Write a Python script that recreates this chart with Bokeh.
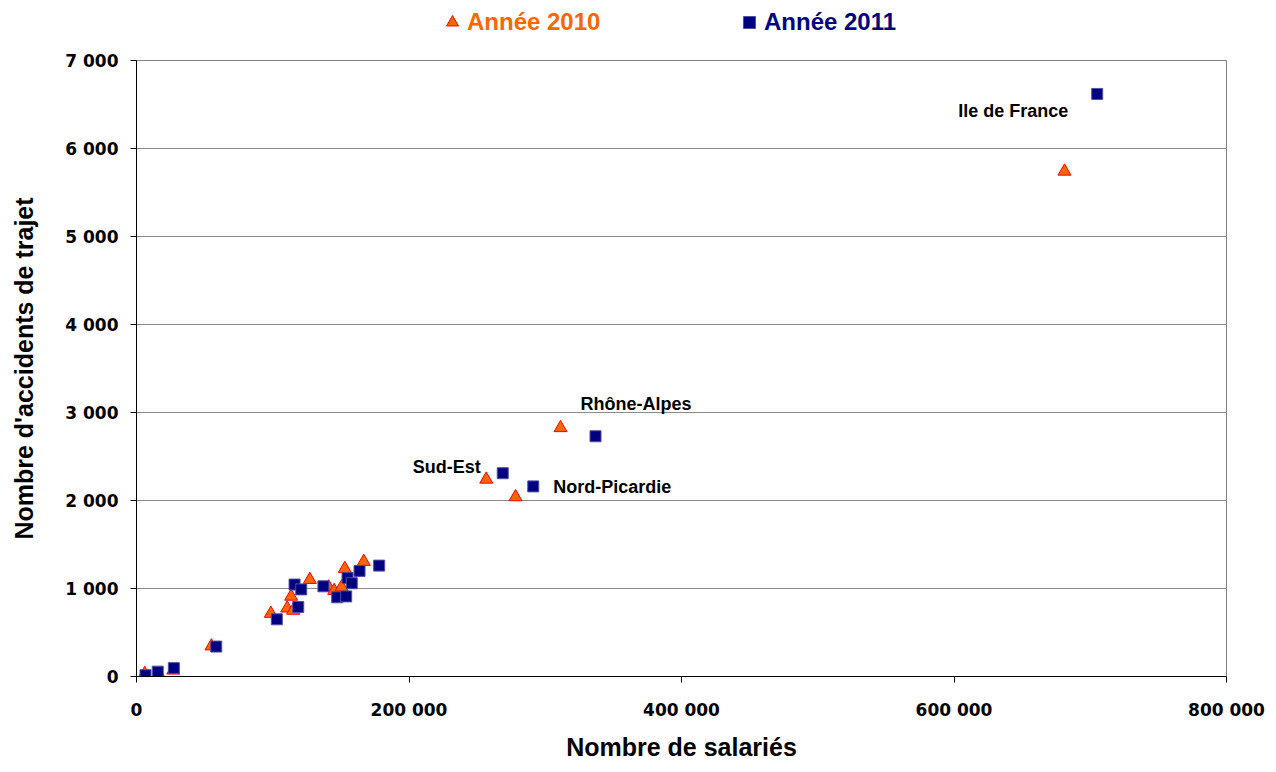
from bokeh.plotting import figure
from bokeh.layouts import column
from bokeh.models import Range1d, FixedTicker, Legend, LegendItem, ColumnDataSource
from bokeh.core.properties import value
from bokeh.embed import file_html
from bokeh.resources import INLINE

# ---- data ----
salaries_2010 = [6000, 17000, 27000, 55000, 98600, 110600, 115000, 113500, 127200,
                 141100, 145100, 150500, 152900, 166800, 256700, 278200, 311200, 681100]
accidents_2010 = [30, 10, 70, 345, 715, 775, 750, 910, 1100,
                  1015, 975, 1015, 1225, 1305, 2240, 2040, 2825, 5740]

salaries_2011 = [6600, 15600, 27400, 58500, 103000, 118700, 116000, 120900, 137200,
                 147300, 153900, 154900, 158000, 163700, 178100, 268800, 291200, 336900, 705100]
accidents_2011 = [15, 55, 95, 340, 650, 790, 1045, 990, 1025,
                  900, 910, 1120, 1060, 1200, 1260, 2310, 2160, 2730, 6620]

label_names = ["Ile de France", "Rhône-Alpes", "Sud-Est", "Nord-Picardie"]
label_salaries = [705100, 336900, 268800, 291200]
label_accidents = [6620, 2730, 2310, 2160]

x_ticks = [0, 200000, 400000, 600000, 800000]
x_tick_labels = ["0", "200 000", "400 000", "600 000", "800 000"]
y_ticks = [0, 1000, 2000, 3000, 4000, 5000, 6000, 7000]
y_tick_labels = ["0", "1 000", "2 000", "3 000", "4 000", "5 000", "6 000", "7 000"]

series_names = ["Année 2010", "Année 2011"]
x_title = "Nombre de salariés"
y_title = "Nombre d'accidents de trajet"

# ---- styles ----
FONT = "Liberation Sans"
TICK_FONT = "DejaVu Sans"
ORANGE = "#FF6600"
NAVY = "#000080"
TRI_STYLE = dict(marker="triangle", size=13, fill_color=ORANGE, line_color="#FF0000", line_width=1)
SQ_STYLE = dict(marker="square", size=11, fill_color=NAVY, line_color="#5050A0", line_width=1)

W = 1268
LEG_H = 48

src10 = ColumnDataSource(dict(x=salaries_2010, y=accidents_2010))
src11 = ColumnDataSource(dict(x=salaries_2011, y=accidents_2011))

# ---- legend strip (separate figure so nothing is clipped; its ranges keep the points out of view) ----
leg = figure(width=W, height=LEG_H, output_backend="svg", toolbar_location=None,
             x_range=Range1d(0, 1), y_range=Range1d(0, 1), min_border=0)
leg.axis.visible = False
leg.grid.visible = False
leg.outline_line_color = None
leg.background_fill_color = "white"
leg.border_fill_color = "white"
d10 = leg.scatter("x", "y", source=src10, **TRI_STYLE)
d11 = leg.scatter("x", "y", source=src11, **SQ_STYLE)
for r, name, col, vx in ((d10, series_names[0], ORANGE, 301), (d11, series_names[1], NAVY, 598)):
    lg = Legend(items=[LegendItem(label=name, renderers=[r])], location=(vx, 11),
                orientation="horizontal", padding=0, margin=0, spacing=0,
                glyph_width=30, glyph_height=30, label_standoff=0,
                label_text_font=FONT, label_text_font_style="bold",
                label_text_font_size="24px", label_text_color=col,
                border_line_color=None, background_fill_alpha=0)
    leg.add_layout(lg, "center")

# ---- main chart ----
p = figure(width=W, height=764 - LEG_H, output_backend="svg", toolbar_location=None,
           x_range=Range1d(0, 800000), y_range=Range1d(0, 7000),
           min_border_left=136, min_border_right=42, min_border_top=12, min_border_bottom=88)
p.background_fill_color = "white"
p.border_fill_color = "white"
p.outline_line_color = "#808080"
p.outline_line_width = 1

p.xgrid.visible = False
p.ygrid.grid_line_color = "#8C8C8C"
p.ygrid.grid_line_width = 1

for ax, ticks, labels in ((p.xaxis[0], x_ticks, x_tick_labels), (p.yaxis[0], y_ticks, y_tick_labels)):
    ax.ticker = FixedTicker(ticks=ticks)
    ax.major_label_overrides = {t: l for t, l in zip(ticks, labels)}
    ax.minor_tick_line_color = None
    ax.major_tick_in = 0
    ax.major_tick_out = 6
    ax.axis_line_color = "black"
    ax.major_tick_line_color = "black"
    ax.major_label_text_font = TICK_FONT
    ax.major_label_text_font_style = "bold"
    ax.major_label_text_font_size = "17px"
    ax.major_label_text_color = "black"
    ax.axis_label_text_font = FONT
    ax.axis_label_text_font_style = "bold"
    ax.axis_label_text_font_size = "25px"
    ax.axis_label_text_color = "black"

p.xaxis.axis_label = x_title
p.yaxis.axis_label = y_title
p.xaxis.major_label_standoff = 17
p.xaxis.axis_label_standoff = 10
p.yaxis.major_label_standoff = 12
p.yaxis.axis_label_standoff = 24

p.scatter("x", "y", source=src10, **TRI_STYLE)
p.scatter("x", "y", source=src11, **SQ_STYLE)

# data labels
lab_src = ColumnDataSource(dict(x=label_salaries, y=label_accidents, t=label_names,
                                xo=[-29, -15, -22, 20], yo=[17, -32, -6, 1],
                                al=["right", "left", "right", "left"]))
p.text("x", "y", text="t", source=lab_src, x_offset="xo", y_offset="yo",
       text_align="al", text_baseline="middle",
       text_font=value(FONT), text_font_style="bold", text_font_size="18px",
       text_color="black")

layout = column(leg, p, spacing=0)
open("out.html", "w").write(file_html(layout, INLINE))
